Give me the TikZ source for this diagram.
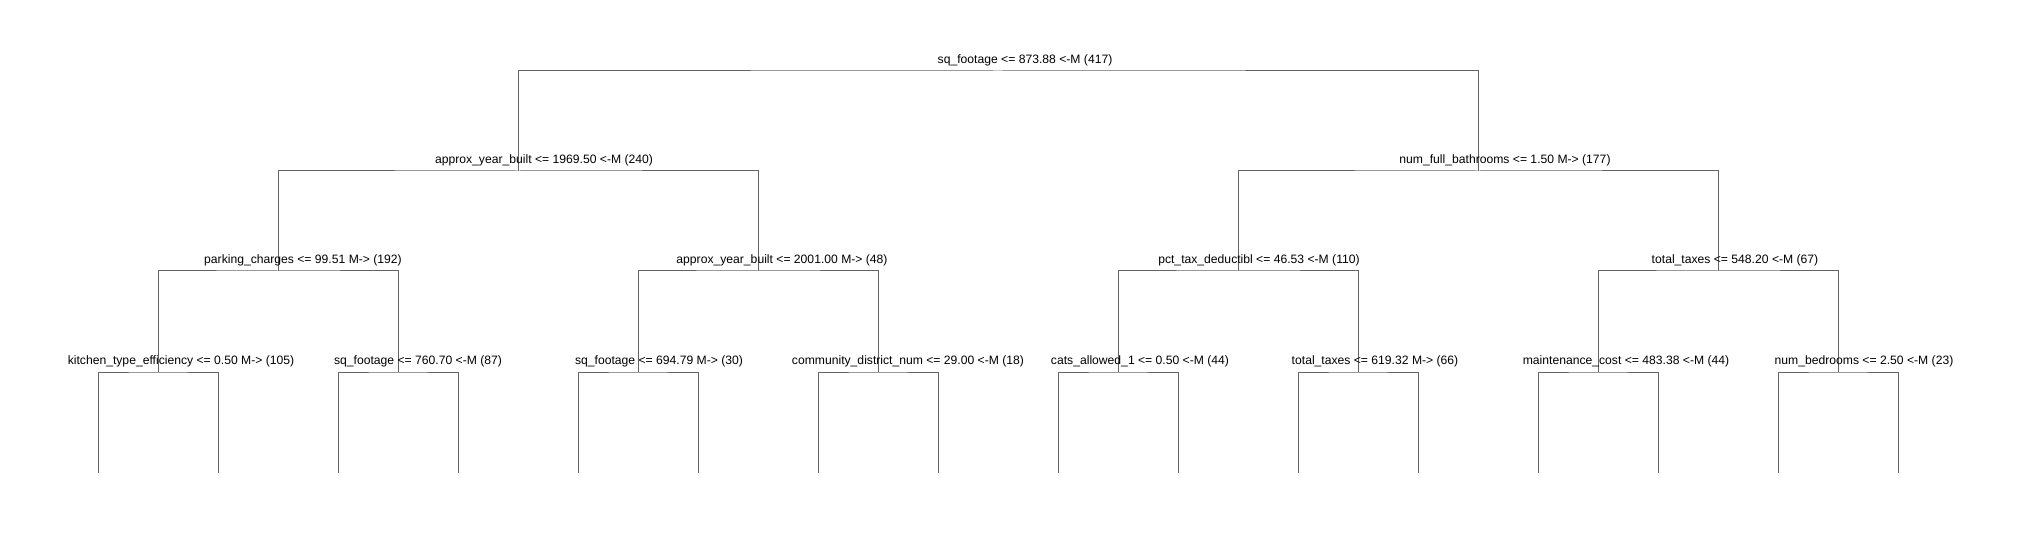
\documentclass[tikz,border=0pt]{standalone}
\usepackage{fontspec}
\setmainfont{Liberation Sans}
\definecolor{astgrau}{RGB}{100,100,100}
\tikzset{
    ast/.style={draw=astgrau, line width=1bp, shift={(0.5,0.5)}},
    lbl/.style={anchor=base, inner sep=0pt, font=\fontsize{12.2}{14}\selectfont}
}

\begin{document}
\begin{tikzpicture}[x=1bp, y=-1bp]
    \useasboundingbox (0,0) rectangle (2023,540);

    % Knoten.
    \coordinate (r) at (998,71);
    \coordinate (r0) at (518,171);
    \coordinate (r1) at (1478,171);
    \coordinate (r00) at (278,271);
    \coordinate (r01) at (758,271);
    \coordinate (r10) at (1238,271);
    \coordinate (r11) at (1718,271);
    \coordinate (r000) at (158,372);
    \coordinate (r001) at (398,372);
    \coordinate (r010) at (638,372);
    \coordinate (r011) at (878,372);
    \coordinate (r100) at (1118,372);
    \coordinate (r101) at (1358,372);
    \coordinate (r110) at (1598,372);
    \coordinate (r111) at (1838,372);
    \foreach \i in {0,...,15}
    {
        \coordinate (l\i) at (98+120*\i,473);
    }

    % Kanten.
    \foreach \p in {r,r0,r1,r00,r01,r10,r11}
    {
        \draw[ast] (\p0) |- (\p) -| (\p1);
    }
    \foreach \p/\a/\b in {r000/0/1,r001/2/3,r010/4/5,r011/6/7,r100/8/9,r101/10/11,r110/12/13,r111/14/15}
    {
        \draw[ast] (l\a) |- (\p) -| (l\b);
    }

    % Beschriftung.
    \foreach \n/\x/\y/\t in {
        r/1025/63.7/{sq\_footage <= 873.88 <-M (417)},
        r0/544/163.7/{approx\_year\_built <= 1969.50 <-M (240)},
        r1/1505/163.7/{num\_full\_bathrooms <= 1.50 M-> (177)},
        r00/303/263.7/{parking\_charges <= 99.51 M-> (192)},
        r01/782/263.7/{approx\_year\_built <= 2001.00 M-> (48)},
        r10/1259/263.7/{pct\_tax\_deductibl <= 46.53 <-M (110)},
        r11/1735/263.7/{total\_taxes <= 548.20 <-M (67)},
        r000/181/364.7/{kitchen\_type\_efficiency <= 0.50 M-> (105)},
        r001/418/364.7/{sq\_footage <= 760.70 <-M (87)},
        r010/659/364.7/{sq\_footage <= 694.79 M-> (30)},
        r011/908/364.7/{community\_district\_num <= 29.00 <-M (18)},
        r100/1140/364.7/{cats\_allowed\_1 <= 0.50 <-M (44)},
        r101/1375/364.7/{total\_taxes <= 619.32 M-> (66)},
        r110/1626/364.7/{maintenance\_cost <= 483.38 <-M (44)},
        r111/1864/364.7/{num\_bedrooms <= 2.50 <-M (23)}}
    {
        \node[lbl] (t\n) at (\x,\y) {\t};
    }
\end{tikzpicture}
\end{document}
